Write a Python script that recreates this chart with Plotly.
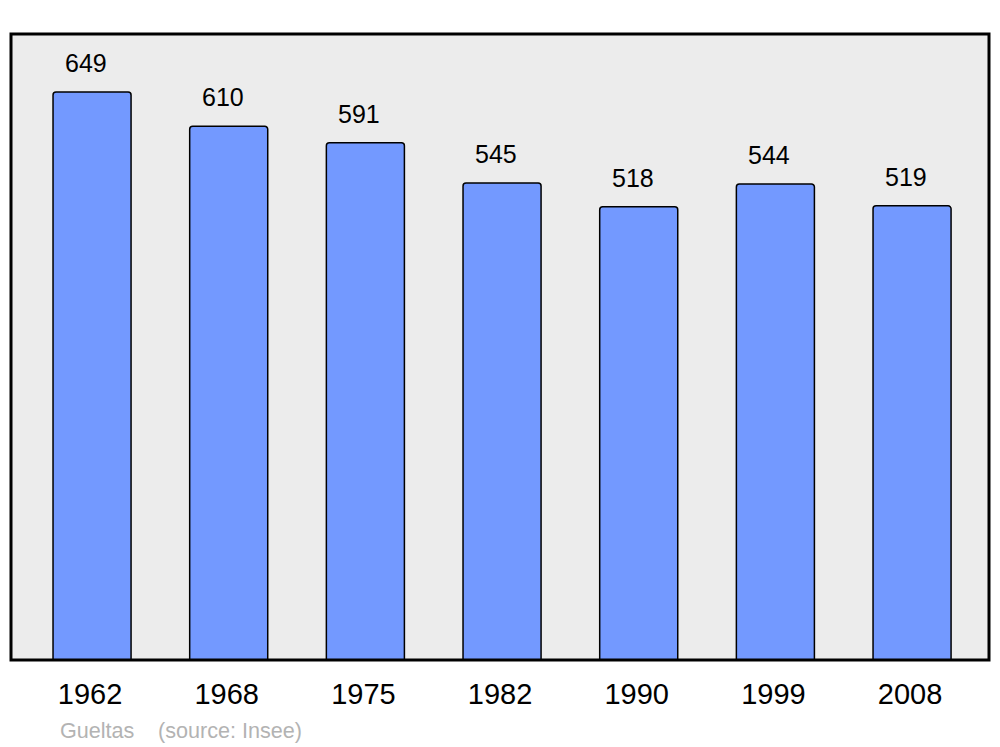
import plotly.graph_objects as go

years = ["1962", "1968", "1975", "1982", "1990", "1999", "2008"]
population = [649, 610, 591, 545, 518, 544, 519]
commune = "Gueltas"
source = "(source: Insee)"

W, H = 1000, 747
ml, mr, mt, mb = 11, 11, 34, 87
pw, ph = W - ml - mr, H - mt - mb

fig = go.Figure()
fig.add_trace(go.Bar(
    x=years, y=population, width=0.571,
    marker=dict(color="#7399ff", line=dict(color="black", width=1.5), cornerradius=3),
    hoverinfo="x+y",
))

for i, v in enumerate(population):
    fig.add_annotation(x=i, y=v, text=str(v), showarrow=False, yanchor="bottom",
                       yshift=13, xshift=-6,
                       font=dict(size=25, color="black", family="Liberation Sans"))

fig.add_annotation(xref="paper", yref="paper", x=(58 - ml) / pw, y=-(730 - (mt + ph)) / ph,
                   xanchor="left", yanchor="middle", text=commune, showarrow=False,
                   font=dict(size=21.6, color="#b3b3b3", family="Liberation Sans"))
fig.add_annotation(xref="paper", yref="paper", x=(156 - ml) / pw, y=-(730 - (mt + ph)) / ph,
                   xanchor="left", yanchor="middle", text=source, showarrow=False,
                   font=dict(size=21.6, color="#b3b3b3", family="Liberation Sans"))

fig.add_shape(type="rect", xref="paper", yref="paper", x0=0, y0=0, x1=1, y1=1,
              line=dict(color="black", width=3), layer="above")

fig.update_layout(
    width=W, height=H,
    margin=dict(l=ml, r=mr, t=mt, b=mb),
    paper_bgcolor="white", plot_bgcolor="#ececec",
    showlegend=False,
    font=dict(family="Liberation Sans", color="black"),
    xaxis=dict(type="category", range=[-0.593, 6.563], showgrid=False, zeroline=False,
               showline=False, ticks="", tickfont=dict(size=29, color="black"),
               ticklabelstandoff=14, ticklabelshift=-2, fixedrange=True),
    yaxis=dict(range=[0, 715.4], showgrid=False, zeroline=False, showline=False,
               showticklabels=False, ticks="", fixedrange=True),
)

fig.write_html("out.html", config={"displayModeBar": False},
               post_script="document.body.style.margin='0';")
